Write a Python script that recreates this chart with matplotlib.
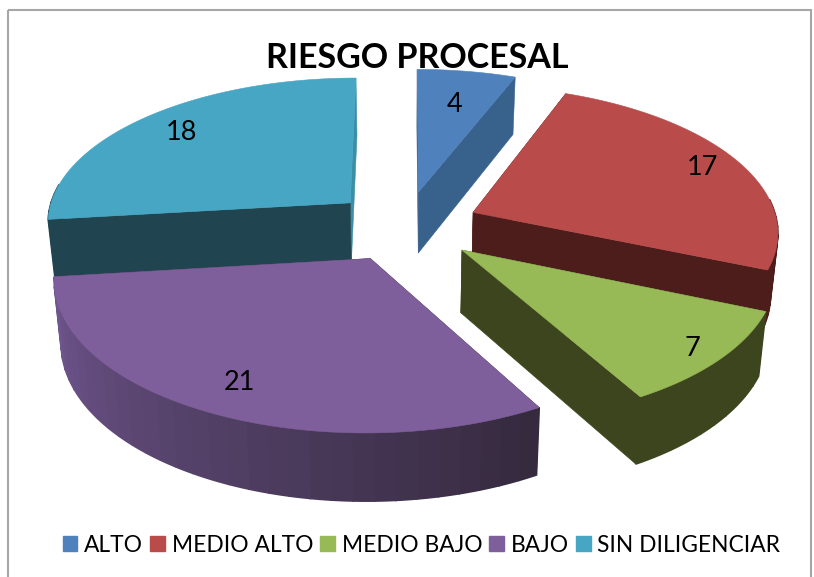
import numpy as np
import matplotlib
matplotlib.use("Agg")
import matplotlib.pyplot as plt
from matplotlib.patches import Polygon, Patch, Rectangle

# data
categories = ["ALTO", "MEDIO ALTO", "MEDIO BAJO", "BAJO", "SIN DILIGENCIAR"]
values = [4, 17, 7, 21, 18]
title = "RIESGO PROCESAL"

# style
top_colors = ["#4f81bd", "#b94c4a", "#97b956", "#7f5f9b", "#47a6c4"]
start_wall_colors = ["#38618c", "#4d1d1c", "#3c451e", "#352a3e", "#204550"]
end_wall_colors = ["#38618c", "#4d1d1c", "#3c451e", "#352a3e", "#3a8ea6"]
rim_start = ["#38618c", "#4d1d1c", "#3c451e", "#352a3e", "#204550"]
rim_end = ["#38618c", "#4d1d1c", "#3c451e", "#70568f", "#204550"]
label_frac = [0.72, 0.87, 0.90, 0.82, 0.82]
draw_order = [0, 4, 1, 2, 3]
font = "Lato"

# projection of the pie (disc units -> axes pixels)
CX, CY, RX, RY, K = 405.0, 226.0, 305.0, 145.0, 0.12
EXPLODE = 0.245
HEIGHT = 62.0


def project(u, v, depth=0.0):
    u, v = np.asarray(u, float), np.asarray(v, float)
    s = 1.0 / (1.0 + K * v)
    shrink = 1.0 - 0.02 * depth
    x = CX + RX * u * s * shrink
    y = CY - RY * v * s + depth * HEIGHT * s ** 0.6
    return x, y


def mix(c1, c2, t):
    a = np.array(matplotlib.colors.to_rgb(c1))
    b = np.array(matplotlib.colors.to_rgb(c2))
    return tuple(a + (b - a) * t)


fig = plt.figure(figsize=(8.14, 5.77), dpi=100)
ax = fig.add_axes([0, 0, 1, 1])
ax.set_xlim(0, 814)
ax.set_ylim(577, 0)
ax.axis("off")

ax.add_patch(Rectangle((8, 10), 803, 600, fill=False, ec="#a6a6a6", lw=1.5, zorder=0))

total = sum(values)
edges = np.concatenate([[0], np.cumsum(values)]) / total * 2 * np.pi


def add(pts_x, pts_y, color, z, lw=0.4):
    ax.add_patch(Polygon(np.column_stack([pts_x, pts_y]), closed=True, fc=color,
                         ec=color, lw=lw, zorder=z))


z = 1.0
for i in draw_order:
    a0, a1 = edges[i], edges[i + 1]
    mid = (a0 + a1) / 2
    cu, cv = EXPLODE * np.sin(mid), EXPLODE * np.cos(mid)
    # radial walls, back one first
    walls = [(a0, start_wall_colors[i]), (a1, end_wall_colors[i])]
    for a, wc in sorted(walls, key=lambda t: -np.cos(t[0])):
        ru, rv = cu + np.sin(a), cv + np.cos(a)
        xt, yt = project([cu, ru], [cv, rv], 0)
        xb, yb = project([cu, ru], [cv, rv], 1)
        add(np.r_[xt, xb[::-1]], np.r_[yt, yb[::-1]], wc, z)
        z += 0.01
    # outer rim, front-facing part only, in bands
    n = max(4, int(np.degrees(a1 - a0) / 3.5))
    band = np.linspace(a0, a1, n + 1)
    for j in range(n):
        if np.cos((band[j] + band[j + 1]) / 2) > 0.12:
            continue
        aa = np.linspace(band[j], band[j + 1], 5)
        u, v = cu + np.sin(aa), cv + np.cos(aa)
        xt, yt = project(u, v, 0)
        xb, yb = project(u, v, 1)
        c = mix(rim_start[i], rim_end[i], j / max(n - 1, 1))
        add(np.r_[xt, xb[::-1]], np.r_[yt, yb[::-1]], c, z, lw=1.2)
        z += 0.001
    # top face
    aa = np.linspace(a0, a1, 120)
    u = np.r_[cu, cu + np.sin(aa)]
    v = np.r_[cv, cv + np.cos(aa)]
    xt, yt = project(u, v, 0)
    add(xt, yt, top_colors[i], z)
    z += 0.01

# value labels
for i, val in enumerate(values):
    mid = (edges[i] + edges[i + 1]) / 2
    cu, cv = EXPLODE * np.sin(mid), EXPLODE * np.cos(mid)
    f = label_frac[i]
    lx, ly = project(cu + f * np.sin(mid), cv + f * np.cos(mid), 0)
    ax.text(lx, ly + 1.5, str(val), ha="center", va="center", fontsize=19.5,
            family=font, color="black", zorder=50)

ax.text(417, 58, title, ha="center", va="center", fontsize=24.5, fontweight="bold",
        family=font, color="black", zorder=60)

handles = [Patch(fc=c, ec=c) for c in top_colors]
ax.legend(handles, categories, loc="center", bbox_to_anchor=(421.5, 545),
          bbox_transform=ax.transData, ncol=5, frameon=False,
          prop={"family": font, "size": 16.4}, handlelength=0.65, handleheight=0.65,
          handletextpad=0.3, columnspacing=0.3, borderpad=0, borderaxespad=0)

fig.savefig("out.png", dpi=100)
